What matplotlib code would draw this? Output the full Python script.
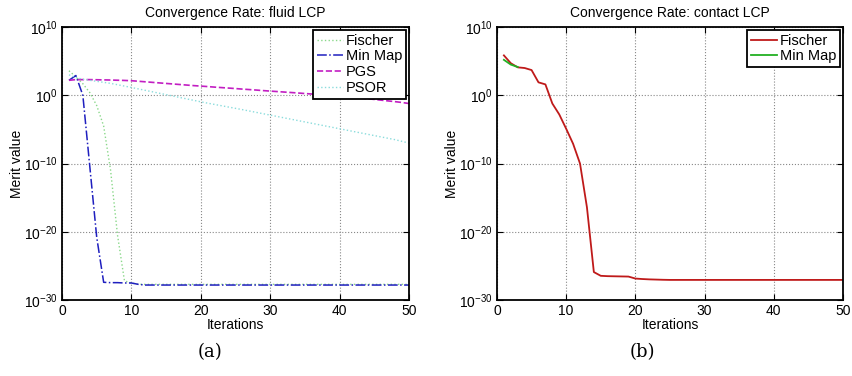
import matplotlib.pyplot as plt
import numpy as np
from matplotlib.ticker import FixedLocator, LogFormatterSciNotation

# Merit values are stored as log10 exponents, one entry per iteration
iters = np.arange(1, 51)

fluid_fischer = [3.6, 2.7, 1.7, 0.4, -1.5, -4.5, -11.0, -20.5, -27.2, -27.5,
                 -27.7, -27.7, -27.7, -27.7, -27.7, -27.7, -27.7, -27.7, -27.7, -27.7,
                 -27.7, -27.7, -27.7, -27.7, -27.7, -27.7, -27.7, -27.7, -27.7, -27.7,
                 -27.7, -27.7, -27.7, -27.7, -27.7, -27.7, -27.7, -27.7, -27.7, -27.7,
                 -27.7, -27.7, -27.7, -27.7, -27.7, -27.7, -27.7, -27.7, -27.7, -27.7]
fluid_minmap = [2.2, 2.9, 0.0, -10.4, -20.8, -27.4, -27.45, -27.45, -27.5, -27.5,
                -27.7, -27.8, -27.8, -27.8, -27.8, -27.8, -27.8, -27.8, -27.8, -27.8,
                -27.8, -27.8, -27.8, -27.8, -27.8, -27.8, -27.8, -27.8, -27.8, -27.8,
                -27.8, -27.8, -27.8, -27.8, -27.8, -27.8, -27.8, -27.8, -27.8, -27.8,
                -27.8, -27.8, -27.8, -27.8, -27.8, -27.8, -27.8, -27.8, -27.8, -27.8]
fluid_pgs = [2.2, 2.3, 2.3, 2.3, 2.28, 2.26, 2.24, 2.21, 2.18, 2.14,
             2.06, 1.98, 1.9, 1.82, 1.74, 1.66, 1.58, 1.5, 1.42, 1.35,
             1.28, 1.2, 1.13, 1.06, 0.99, 0.91, 0.84, 0.77, 0.69, 0.62,
             0.55, 0.48, 0.41, 0.34, 0.26, 0.19, 0.12, 0.05, -0.02, -0.1,
             -0.2, -0.3, -0.4, -0.5, -0.6, -0.71, -0.82, -0.93, -1.05, -1.2]
fluid_psor = [3.0, 2.6, 2.35, 2.2, 2.05, 1.9, 1.75, 1.55, 1.35, 1.15,
              0.94, 0.73, 0.52, 0.31, 0.1, -0.11, -0.32, -0.53, -0.74, -0.95,
              -1.15, -1.34, -1.53, -1.72, -1.91, -2.1, -2.3, -2.5, -2.7, -2.9,
              -3.1, -3.3, -3.5, -3.7, -3.9, -4.1, -4.3, -4.5, -4.7, -4.9,
              -5.1, -5.3, -5.5, -5.7, -5.9, -6.1, -6.3, -6.5, -6.75, -7.0]

contact_fischer = [5.85, 4.7, 4.1, 4.0, 3.7, 1.9, 1.6, -1.2, -2.8, -4.9,
                   -7.1, -10.0, -16.4, -25.9, -26.45, -26.5, -26.52, -26.54, -26.56, -26.85,
                   -26.92, -26.97, -27.0, -27.03, -27.05, -27.05, -27.05, -27.05, -27.05, -27.05,
                   -27.05, -27.05, -27.05, -27.05, -27.05, -27.05, -27.05, -27.05, -27.05, -27.05,
                   -27.05, -27.05, -27.05, -27.05, -27.05, -27.05, -27.05, -27.05, -27.05, -27.05]
contact_minmap = [5.2, 4.5, 4.15]

plt.rcParams['font.family'] = ['Liberation Sans', 'DejaVu Sans']
plt.rcParams['mathtext.fontset'] = 'custom'
plt.rcParams['mathtext.rm'] = 'Liberation Sans'
plt.rcParams['mathtext.it'] = 'Liberation Sans:italic'

fig = plt.figure(figsize=(8.52, 3.76), dpi=100)
ax1 = fig.add_axes([0.0728, 0.202, 0.4072, 0.726])
ax2 = fig.add_axes([0.5833, 0.202, 0.4061, 0.726])


def style_axes(ax, title):
    ax.set_yscale('log')
    ax.set_xlim(0, 50)
    ax.set_ylim(1e-30, 1e10)
    ax.yaxis.set_major_locator(FixedLocator([1e-30, 1e-20, 1e-10, 1e0, 1e10]))
    ax.yaxis.set_major_formatter(LogFormatterSciNotation())
    ax.yaxis.set_minor_locator(FixedLocator([]))
    ax.set_xticks([0, 10, 20, 30, 40, 50])
    ax.tick_params(direction='in', top=True, right=True, length=4,
                   width=0.8, labelsize=10, pad=3)
    ax.grid(True, linestyle=':', color='#888888', linewidth=0.8)
    for s in ax.spines.values():
        s.set_linewidth(1.3)
    ax.set_title(title, fontsize=10, pad=7)
    ax.set_xlabel('Iterations', fontsize=10, labelpad=0)
    ax.set_ylabel('Merit value', fontsize=10, labelpad=0)


def legend(ax):
    leg = ax.legend(loc='upper right', fontsize=10.5, fancybox=False,
                    framealpha=1, edgecolor='black', borderpad=0.25,
                    labelspacing=0.12, handlelength=1.8, handletextpad=0.2,
                    borderaxespad=0.2)
    leg.get_frame().set_linewidth(1.3)


# Fluid LCP solvers
ax1.plot(iters, 10.0 ** np.array(fluid_fischer), ':', color='#8ad88a', lw=1.0, label='Fischer')
ax1.plot(iters, 10.0 ** np.array(fluid_minmap), '-.', color='#1f1fbf', lw=1.1, label='Min Map')
ax1.plot(iters, 10.0 ** np.array(fluid_pgs), '--', color='#c21ec2', lw=1.2, label='PGS')
ax1.plot(iters, 10.0 ** np.array(fluid_psor), ':', color='#8adcdc', lw=1.0, label='PSOR')
style_axes(ax1, 'Convergence Rate: fluid LCP')
legend(ax1)

# Contact LCP solvers
ax2.plot(iters, 10.0 ** np.array(contact_fischer), '-', color='#bf1a1a', lw=1.3, label='Fischer')
ax2.plot(iters[:len(contact_minmap)], 10.0 ** np.array(contact_minmap), '-',
         color='#22b022', lw=1.3, label='Min Map')
style_axes(ax2, 'Convergence Rate: contact LCP')
legend(ax2)

fig.text(0.2465, 0.063, '(a)', ha='center', va='center', fontsize=13, family='DejaVu Serif')
fig.text(0.7535, 0.063, '(b)', ha='center', va='center', fontsize=13, family='DejaVu Serif')

fig.savefig('out.png', dpi=100)
